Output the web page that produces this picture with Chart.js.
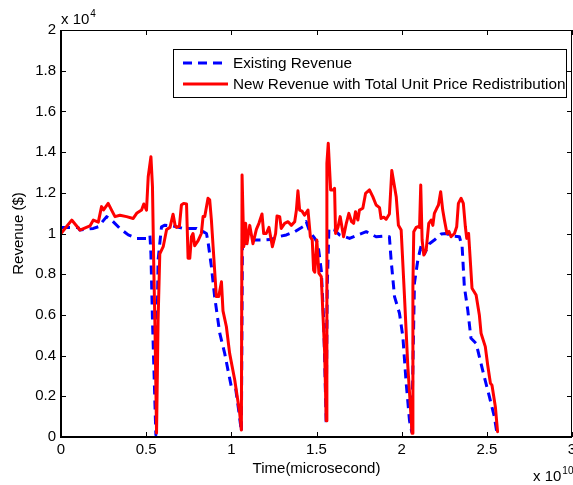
<!DOCTYPE html>
<html>
<head>
<meta charset="utf-8">
<script src="https://cdn.jsdelivr.net/npm/chart.js@4.4.1/dist/chart.umd.min.js"></script>
<style>
  html, body { margin: 0; padding: 0; background: #fff; }
  canvas { display: block; }
</style>
</head>
<body>
<canvas id="revChart" width="573" height="485"></canvas>
<script>
// --- DATOS (x en 1e10 microsegundos, y en 1e4 $) ---
const X_EXP = 10;
const Y_EXP = 4;

const xTicks = [0, 0.5, 1, 1.5, 2, 2.5, 3];
const xTickLabels = ['0', '0.5', '1', '1.5', '2', '2.5', '3'];
const yTicks = [0, 0.2, 0.4, 0.6, 0.8, 1, 1.2, 1.4, 1.6, 1.8, 2];
const yTickLabels = ['0', '0.2', '0.4', '0.6', '0.8', '1', '1.2', '1.4', '1.6', '1.8', '2'];

const seriesNames = ['Existing Revenue', 'New Revenue with Total Unit Price Redistribution'];

const existingX = [0, 0.1, 0.111, 0.19, 0.219, 0.268, 0.297, 0.346, 0.395, 0.444, 0.502, 0.522, 0.528, 0.537, 0.557,
  0.565, 0.57, 0.59, 0.61, 0.658, 0.717, 0.795, 0.834, 0.854, 0.863, 0.883, 0.902, 0.932, 0.961, 0.98,
  1.0, 1.025, 1.045, 1.059, 1.065, 1.078, 1.127, 1.186, 1.23, 1.274, 1.323, 1.372, 1.42, 1.44, 1.46,
  1.49, 1.508, 1.528, 1.542, 1.557, 1.563, 1.573, 1.606, 1.635, 1.694, 1.743, 1.792, 1.85, 1.899, 1.928,
  1.938, 1.958, 1.987, 2.007, 2.026, 2.046, 2.059, 2.075, 2.095, 2.115, 2.134, 2.163, 2.192, 2.231, 2.26,
  2.3, 2.339, 2.355, 2.368, 2.388, 2.407, 2.437, 2.456, 2.485, 2.515, 2.544, 2.558];
const existingY = [1.03, 1.03, 1.017, 1.025, 1.033, 1.083, 1.066, 1.025, 0.993, 0.976, 0.976, 0.993, 0.9, 0.575, 0.01,
  0.575, 0.87, 1.033, 1.041, 1.037, 1.025, 1.025, 1.009, 1.0, 0.96, 0.837, 0.69, 0.51, 0.411, 0.33,
  0.247, 0.24, 0.12, 0.026, 0.935, 0.95, 0.968, 0.968, 0.97, 0.984, 0.993, 1.009, 1.033, 1.058, 1.009,
  0.976, 0.95, 0.82, 0.575, 0.067, 0.739, 1.025, 1.017, 0.993, 0.976, 0.993, 1.009, 0.984, 0.988, 0.984,
  0.87, 0.69, 0.608, 0.493, 0.27, 0.08, 0.026, 0.756, 0.87, 0.943, 0.9, 0.95, 0.968, 0.997, 1.0,
  0.988, 0.984, 0.935, 0.739, 0.624, 0.485, 0.46, 0.395, 0.296, 0.198, 0.1, 0.026];

const newX = [0, 0.063, 0.111, 0.17, 0.19, 0.219, 0.238, 0.25, 0.277, 0.297, 0.317, 0.346, 0.385, 0.424, 0.444,
  0.473, 0.486, 0.502, 0.512, 0.528, 0.537, 0.545, 0.551, 0.561, 0.57, 0.58, 0.6, 0.62, 0.64, 0.658,
  0.67, 0.678, 0.695, 0.707, 0.72, 0.737, 0.746, 0.756, 0.766, 0.775, 0.785, 0.805, 0.824, 0.834, 0.844,
  0.863, 0.873, 0.883, 0.893, 0.912, 0.926, 0.942, 0.951, 0.971, 0.99, 1.02, 1.049, 1.059, 1.063, 1.073,
  1.084, 1.092, 1.108, 1.127, 1.147, 1.162, 1.18, 1.19, 1.205, 1.221, 1.241, 1.26, 1.268, 1.284, 1.293,
  1.313, 1.333, 1.352, 1.372, 1.382, 1.391, 1.401, 1.415, 1.43, 1.45, 1.464, 1.475, 1.483, 1.49, 1.502,
  1.514, 1.528, 1.548, 1.557, 1.561, 1.569, 1.583, 1.597, 1.606, 1.612, 1.626, 1.639, 1.659, 1.675, 1.69,
  1.706, 1.718, 1.729, 1.743, 1.752, 1.772, 1.788, 1.811, 1.831, 1.85, 1.87, 1.879, 1.895, 1.909, 1.928,
  1.942, 1.968, 1.981, 1.997, 2.016, 2.036, 2.05, 2.061, 2.066, 2.071, 2.085, 2.095, 2.105, 2.112, 2.12,
  2.13, 2.144, 2.159, 2.173, 2.183, 2.192, 2.206, 2.216, 2.229, 2.241, 2.251, 2.266, 2.278, 2.29, 2.31,
  2.323, 2.333, 2.349, 2.362, 2.374, 2.382, 2.393, 2.413, 2.437, 2.456, 2.466, 2.491, 2.505, 2.521, 2.53,
  2.55, 2.563];
const newY = [1.0, 1.066, 1.017, 1.037, 1.066, 1.056, 1.132, 1.116, 1.148, 1.115, 1.083, 1.09, 1.083, 1.074, 1.099,
  1.115, 1.145, 1.115, 1.279, 1.377, 1.23, 0.82, 0.575, 0.02, 0.575, 0.9, 0.935, 1.02, 1.03, 1.095,
  1.04, 1.03, 1.035, 1.14, 1.148, 1.145, 0.878, 0.878, 0.985, 1.0, 0.94, 0.965, 1.0, 1.083, 1.083,
  1.173, 1.165, 1.066, 0.935, 0.69, 0.69, 0.763, 0.62, 0.542, 0.411, 0.28, 0.118, 0.034, 1.287, 0.935,
  1.05, 0.95, 1.04, 0.95, 1.02, 1.05, 1.096, 1.0, 1.0, 1.03, 0.935, 1.0, 1.086, 1.083, 1.025,
  1.05, 1.058, 1.04, 1.058, 1.115, 1.21, 1.115, 1.11, 1.09, 1.115, 0.984, 0.968, 0.82, 0.81, 0.968,
  0.805, 0.788, 0.411, 0.08, 1.345, 1.443, 1.214, 1.214, 1.222, 1.0, 1.03, 1.083, 0.984, 1.05, 1.099,
  1.058, 1.05, 1.107, 1.066, 1.115, 1.124, 1.197, 1.214, 1.18, 1.14, 1.127, 1.074, 1.08, 1.07, 1.096,
  1.309, 1.181, 1.04, 1.017, 0.7, 0.35, 0.166, 0.018, 0.739, 1.009, 1.03, 1.033, 1.03, 1.238, 0.968,
  0.894, 0.92, 1.05, 1.066, 1.04, 1.099, 1.124, 1.14, 1.205, 1.115, 1.066, 1.0, 1.01, 0.984, 1.0,
  1.033, 1.148, 1.173, 1.148, 1.033, 0.976, 1.0, 0.731, 0.698, 0.6, 0.51, 0.444, 0.354, 0.264, 0.255,
  0.149, 0.026];

const FONT = '"Liberation Sans", Arial, sans-serif';

function toPoints(xs, ys) {
    return xs.map((x, i) => ({ x: x, y: ys[i] }));
}

// --- PLUGIN: caja estilo MATLAB con ticks hacia dentro ---
const boxPlugin = {
    id: 'matlabBox',
    afterDatasetsDraw(chart) {
        const { ctx, chartArea: a, scales } = chart;
        ctx.save();
        ctx.strokeStyle = '#000';
        ctx.lineWidth = 1;
        const tl = 5;
        ctx.beginPath();
        xTicks.forEach(v => {
            const px = Math.round(scales.x.getPixelForValue(v)) + 0.5;
            ctx.moveTo(px, a.bottom); ctx.lineTo(px, a.bottom - tl);
            ctx.moveTo(px, a.top); ctx.lineTo(px, a.top + tl);
        });
        yTicks.forEach(v => {
            const py = Math.round(scales.y.getPixelForValue(v)) + 0.5;
            ctx.moveTo(a.left, py); ctx.lineTo(a.left + tl, py);
            ctx.moveTo(a.right, py); ctx.lineTo(a.right - tl, py);
        });
        ctx.stroke();
        // borde superior y derecho finos
        ctx.beginPath();
        ctx.moveTo(a.left, a.top + 0.5); ctx.lineTo(a.right - 0.5, a.top + 0.5);
        ctx.lineTo(a.right - 0.5, a.bottom);
        ctx.stroke();
        // ejes izquierdo e inferior más gruesos
        ctx.lineWidth = 2;
        ctx.beginPath();
        ctx.moveTo(a.left, a.top); ctx.lineTo(a.left, a.bottom);
        ctx.lineTo(a.right, a.bottom);
        ctx.stroke();

        // multiplicadores de eje
        ctx.fillStyle = '#000';
        ctx.textBaseline = 'alphabetic';
        ctx.textAlign = 'left';
        ctx.font = '15px ' + FONT;
        ctx.fillText('x 10', a.left, a.top - 6);
        let w = ctx.measureText('x 10').width;
        ctx.font = '10px ' + FONT;
        ctx.fillText(String(Y_EXP), a.left + w + 1, a.top - 13);

        ctx.font = '15px ' + FONT;
        ctx.textAlign = 'left';
        ctx.fillText('x 10', a.right - 39, a.bottom + 44);
        w = ctx.measureText('x 10').width;
        ctx.font = '10px ' + FONT;
        ctx.fillText(String(X_EXP), a.right - 39 + w + 1, a.bottom + 37);
        ctx.restore();
    }
};

// --- PLUGIN: leyenda dentro del área ---
const legendPlugin = {
    id: 'boxLegend',
    afterDraw(chart) {
        const ctx = chart.ctx;
        const x0 = 173.5, y0 = 49.5, w = 393, h = 48;
        ctx.save();
        ctx.fillStyle = '#fff';
        ctx.fillRect(x0, y0, w, h);
        ctx.strokeStyle = '#000';
        ctx.lineWidth = 1;
        ctx.strokeRect(x0, y0, w, h);
        ctx.font = '15.3px ' + FONT;
        ctx.textBaseline = 'middle';
        ctx.textAlign = 'left';
        chart.data.datasets.forEach((ds, i) => {
            const y = 63 + i * 21;
            ctx.strokeStyle = ds.borderColor;
            ctx.lineWidth = ds.borderWidth;
            ctx.setLineDash(ds.borderDash || []);
            ctx.beginPath();
            ctx.moveTo(183, y); ctx.lineTo(228, y);
            ctx.stroke();
            ctx.setLineDash([]);
            ctx.fillStyle = '#000';
            ctx.fillText(ds.label, 233, y + 1);
        });
        ctx.restore();
    }
};

const ctx = document.getElementById('revChart').getContext('2d');
new Chart(ctx, {
    type: 'line',
    data: {
        datasets: [
            {
                label: seriesNames[0],
                data: toPoints(existingX, existingY),
                borderColor: '#0000ff',
                borderWidth: 3,
                borderDash: [9, 6],
                borderJoinStyle: 'round',
                pointRadius: 0,
                tension: 0,
                order: 2
            },
            {
                label: seriesNames[1],
                data: toPoints(newX, newY),
                borderColor: '#ff0000',
                borderWidth: 3,
                borderJoinStyle: 'round',
                borderCapStyle: 'round',
                pointRadius: 0,
                tension: 0,
                order: 1
            }
        ]
    },
    options: {
        responsive: false,
        animation: false,
        layout: { padding: { top: 30, right: 1, left: 0, bottom: 0 } },
        plugins: { legend: { display: false }, tooltip: { enabled: false } },
        scales: {
            x: {
                type: 'linear',
                min: 0, max: 3,
                grid: { display: false, drawTicks: false },
                border: { display: false },
                afterBuildTicks: s => { s.ticks = xTicks.map(v => ({ value: v })); },
                afterFit: s => { s.height = 48; s.paddingLeft = 0; s.paddingRight = 0; },
                ticks: {
                    padding: 4,
                    color: '#000',
                    font: { family: FONT, size: 15 },
                    maxRotation: 0,
                    callback: (v) => xTickLabels[xTicks.indexOf(v)]
                },
                title: {
                    display: true,
                    text: 'Time(microsecond)',
                    color: '#000',
                    font: { family: FONT, size: 15 },
                    padding: { top: 0, bottom: 7 }
                }
            },
            y: {
                min: 0, max: 2,
                grid: { display: false, drawTicks: false },
                border: { display: false },
                afterBuildTicks: s => { s.ticks = yTicks.map(v => ({ value: v })); },
                afterFit: s => { s.width = 61; s.paddingTop = 0; s.paddingBottom = 0; },
                ticks: {
                    padding: 5,
                    color: '#000',
                    font: { family: FONT, size: 15 },
                    callback: (v) => yTickLabels[yTicks.indexOf(v)]
                },
                title: {
                    display: true,
                    text: 'Revenue ($)',
                    color: '#000',
                    font: { family: FONT, size: 15 },
                    padding: { top: 10, bottom: 0 }
                }
            }
        }
    },
    plugins: [boxPlugin, legendPlugin]
});
</script>
</body>
</html>
